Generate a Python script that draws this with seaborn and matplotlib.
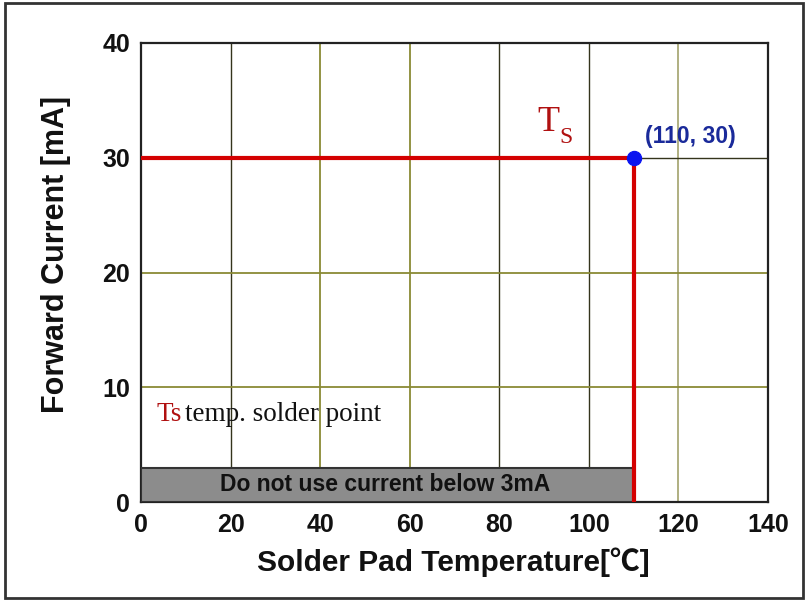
import pandas as pd
import matplotlib
matplotlib.use('Agg')
import matplotlib.pyplot as plt
import seaborn as sns
from matplotlib.patches import Rectangle
from matplotlib.ticker import MultipleLocator

sns.set_theme(style='white')
plt.rcParams['font.family'] = ['Liberation Sans', 'DejaVu Sans']

# Ts derating curve: flat at 30 mA up to 110 C, then drops to 0
ts_temp = [0, 110, 110]
ts_current = [30, 30, 0]

# marked corner point
point_temp = [110]
point_current = [30]
point_label = '(110, 30)'

# do-not-use band
min_current = 3
band_end_temp = 110
band_label = 'Do not use current below 3mA'

x_ticks = [0, 20, 40, 60, 80, 100, 120, 140]
y_ticks = [0, 10, 20, 30, 40]

curve = pd.DataFrame({'temp': ts_temp, 'current': ts_current})
pts = pd.DataFrame({'temp': point_temp, 'current': point_current})

fig = plt.figure(figsize=(8.07, 6.01), dpi=100)
ax = fig.add_axes([141 / 807, 99 / 601, 627 / 807, 459 / 601])

ax.set_xlim(0, 140)
ax.set_ylim(0, 40)
ax.set_xticks(x_ticks)
ax.set_yticks(y_ticks)
ax.xaxis.set_minor_locator(MultipleLocator(10))
ax.yaxis.set_minor_locator(MultipleLocator(5))

ax.grid(True, which='major', color='#8a8a35', linewidth=1.3)
ax.set_axisbelow(True)

# the scanned grid has a mix of dark and olive lines
dark, olive, khaki = '#34341c', '#8a8a35', '#a9a977'
x_grid_cols = [olive, dark, olive, olive, dark, dark, khaki, olive]
y_grid_cols = [olive, olive, olive, dark, olive]
for gl, c in zip(ax.get_xgridlines(), x_grid_cols):
    gl.set_color(c)
    if c == dark:
        gl.set_linewidth(1.0)
for gl, c in zip(ax.get_ygridlines(), y_grid_cols):
    gl.set_color(c)
    if c == dark:
        gl.set_linewidth(1.0)

ax.tick_params(which='both', direction='in', color='#222222')
ax.tick_params(which='major', length=7, width=1.5, labelsize=18, pad=8)
ax.tick_params(which='minor', length=4, width=1.2)
for lbl in ax.get_xticklabels() + ax.get_yticklabels():
    lbl.set_fontweight('bold')
    lbl.set_color('#111111')
for sp in ax.spines.values():
    sp.set_color('#222222')
    sp.set_linewidth(1.6)

# grey band
ax.add_patch(Rectangle((0, 0), band_end_temp, min_current, facecolor='#8c8c8c',
                       edgecolor='#333333', linewidth=1.5, zorder=3))
ax.text(band_end_temp / 2 - 0.6, min_current / 2, band_label, ha='center', va='center',
        fontsize=16.5, fontweight='bold', color='#111111', zorder=4)

sns.lineplot(data=curve, x='temp', y='current', sort=False, estimator=None,
             color='#d40000', linewidth=3, ax=ax, zorder=5)
sns.scatterplot(data=pts, x='temp', y='current', color='#0a14f0', s=105,
                edgecolor='#0a14f0', ax=ax, zorder=6)

ax.text(point_temp[0] + 2.5, point_current[0] + 0.85, point_label, fontsize=16.5,
        fontweight='bold', color='#1a2a9a', ha='left', va='bottom')

serif = ['Liberation Serif', 'DejaVu Serif']
ax.text(88.4, 32.35, 'T', family=serif, fontsize=26, color='#b01010', ha='left', va='baseline')
ax.text(93.4, 31.3, 'S', family=serif, fontsize=17, color='#b01010', ha='left', va='baseline')

ts = ax.text(3.5, 7.1, 'Ts', family=serif, fontsize=19.5, color='#b01010',
             ha='left', va='baseline')
ax.annotate('temp. solder point', xy=(1, 0), xycoords=ts, xytext=(2, 0),
            textcoords='offset points', family=serif, fontsize=19.5, color='#111111',
            ha='left', va='bottom')

ax.set_xlabel('Solder Pad Temperature[℃]', fontsize=21.5, fontweight='bold', color='#111111',
              family=['Liberation Sans', 'Noto Sans CJK SC'])
ax.set_ylabel('Forward Current [mA]', fontsize=22, fontweight='bold', color='#111111')
ax.xaxis.set_label_coords(0.498, -0.10)
ax.yaxis.set_label_coords(-0.112, 0.54)

# outer frame
fig.patches.append(Rectangle((5 / 807, 3 / 601), 798 / 807, 595 / 601, transform=fig.transFigure,
                             fill=False, edgecolor='#333333', linewidth=2))

fig.savefig('out.png', dpi=100)
